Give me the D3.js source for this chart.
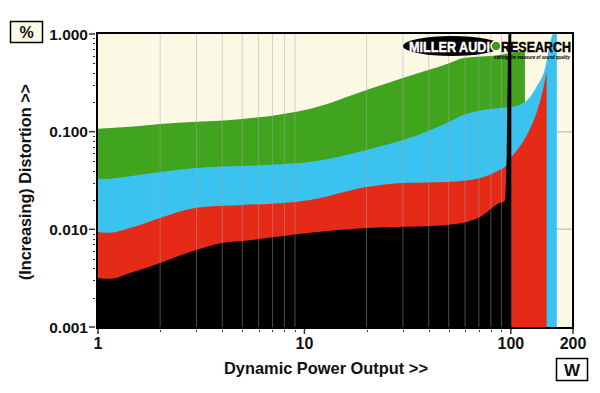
<!DOCTYPE html>
<html>
<head>
<meta charset="utf-8">
<script src="https://cdn.jsdelivr.net/npm/d3@7"></script>
<style>
  body { margin: 0; background: #fff; }
  svg { display: block; font-family: "Liberation Sans", Arial, sans-serif; }
</style>
</head>
<body>
<svg id="chart" width="600" height="393"></svg>
<script>
// power (W) and distortion (%), one pair of arrays per trace
var greenW = [ 1, 1.43, 2, 3, 5, 7.9, 10.6, 20, 30, 49, 59, 88, 100, 117 ];
var greenPct = [ 0.107, 0.112, 0.120, 0.126, 0.135, 0.152, 0.171, 0.267, 0.355, 0.493, 0.568, 0.61, 0.64, 0.67 ];

var blueW = [ 1, 1.14, 1.43, 2, 3, 4, 5, 7.9, 10.6, 20, 30, 49, 59, 88, 100, 117, 133, 147, 155, 160, 167 ];
var bluePct = [ 0.0328, 0.033, 0.035, 0.0387, 0.0425, 0.044, 0.0446, 0.0467, 0.049, 0.065, 0.082, 0.123, 0.148, 0.175, 0.179, 0.201, 0.287, 0.459, 0.81, 1.0, 1.0 ];

var redW = [ 1, 1.14, 1.43, 2, 3, 4, 5, 7.9, 10.6, 20, 30, 49, 71, 88, 93.5, 100, 110, 121, 133, 143, 149 ];
var redPct = [ 0.0094, 0.0092, 0.0103, 0.0131, 0.0166, 0.0174, 0.0178, 0.0186, 0.020, 0.0272, 0.0299, 0.0306, 0.0336, 0.0405, 0.0435, 0.054, 0.0697, 0.097, 0.155, 0.267, 0.41 ];

var blackW = [ 1, 1.14, 1.43, 2, 2.79, 3, 4, 5, 7.9, 10.6, 20, 49, 71, 88, 93.5, 95.5, 97.5, 100.5 ];
var blackPct = [ 0.00318, 0.00311, 0.00358, 0.00453, 0.00587, 0.00615, 0.00726, 0.0076, 0.00855, 0.0092, 0.0103, 0.0111, 0.0134, 0.0186, 0.0195, 0.06, 1.0, 1.0 ];

var xTickLabels = [ 1, 10, 100, 200 ];
var yTickLabels = [ '1.000', '0.100', '0.010', '0.001' ];

var svg = d3.select( '#chart' );
var pLeft = 98, pRight = 573, pTop = 34, pBottom = 327;

var x = d3.scaleLog().domain( [ 1, 200 ] ).range( [ pLeft, pRight ] );
var y = d3.scaleLog().domain( [ 0.001, 1 ] ).range( [ pBottom, pTop ] );

svg.append( 'defs' ).append( 'clipPath' ).attr( 'id', 'plotClip' )
	.append( 'rect' ).attr( 'x', pLeft ).attr( 'y', pTop )
	.attr( 'width', pRight - pLeft ).attr( 'height', pBottom - pTop );

svg.append( 'rect' )
	.attr( 'x', pLeft ).attr( 'y', pTop )
	.attr( 'width', pRight - pLeft ).attr( 'height', pBottom - pTop )
	.style( 'fill', '#fbf8e4' );

// horizontal grid sits behind the fills
svg.selectAll( 'line.hgrid' ).data( [ 0.1, 0.01 ] )
	.enter().append( 'line' )
	.attr( 'class', 'hgrid' )
	.attr( 'x1', pLeft ).attr( 'x2', pRight )
	.attr( 'y1', function( d ) { return y( d ); } )
	.attr( 'y2', function( d ) { return y( d ); } )
	.style( 'stroke', '#c8c8c0' ).style( 'stroke-width', 1.5 );

var traces = [
	{ w: greenW, p: greenPct, color: '#41a41e' },
	{ w: blueW, p: bluePct, color: '#3bc3ef' },
	{ w: redW, p: redPct, color: '#e52a17' },
	{ w: blackW, p: blackPct, color: '#000000' }
];

var plot = svg.append( 'g' ).attr( 'clip-path', 'url(#plotClip)' );

traces.forEach( function( t ) {
	var pts = t.w.map( function( w, i ) { return [ w, t.p[ i ] ]; } );
	var area = d3.area()
		.curve( d3.curveMonotoneX )
		.x( function( d ) { return x( d[ 0 ] ); } )
		.y0( pBottom )
		.y1( function( d ) { return y( d[ 1 ] ); } );
	plot.append( 'path' ).datum( pts ).attr( 'd', area ).style( 'fill', t.color );
} );

// vertical grid drawn over the fills
var vgrid = [];
[ 1, 10 ].forEach( function( dec ) {
	for ( var k = 2; k <= 9; k ++ ) vgrid.push( k * dec );
} );
plot.selectAll( 'line.vgrid' ).data( vgrid )
	.enter().append( 'line' )
	.attr( 'class', 'vgrid' )
	.attr( 'x1', function( d ) { return x( d ); } )
	.attr( 'x2', function( d ) { return x( d ); } )
	.attr( 'y1', pTop ).attr( 'y2', pBottom )
	.style( 'stroke', '#a8a8a8' ).style( 'stroke-opacity', 0.45 ).style( 'stroke-width', 1 );

// logo
var logo = svg.append( 'g' );
logo.append( 'ellipse' ).attr( 'cx', 452 ).attr( 'cy', 46 ).attr( 'rx', 49 ).attr( 'ry', 10 ).style( 'fill', '#000' );
logo.append( 'text' ).attr( 'x', 409 ).attr( 'y', 51.5 ).text( 'MILLER AUDI' )
	.style( 'fill', '#fff' ).style( 'font-weight', 'bold' ).style( 'font-size', '14px' )
	.style( 'stroke', '#fff' ).style( 'stroke-width', 0.4 )
	.attr( 'textLength', 81 ).attr( 'lengthAdjust', 'spacingAndGlyphs' );
logo.append( 'circle' ).attr( 'cx', 496 ).attr( 'cy', 46 ).attr( 'r', 5 )
	.style( 'fill', '#3d9a1c' ).style( 'stroke', '#fff' ).style( 'stroke-width', 1.5 );
logo.append( 'text' ).attr( 'x', 501 ).attr( 'y', 51.5 ).text( 'RESEARCH' )
	.style( 'fill', '#000' ).style( 'font-weight', 'bold' ).style( 'font-size', '14px' )
	.style( 'stroke', '#000' ).style( 'stroke-width', 0.4 )
	.attr( 'textLength', 70 ).attr( 'lengthAdjust', 'spacingAndGlyphs' );
logo.append( 'text' ).attr( 'x', 494 ).attr( 'y', 58.5 ).text( 'setting the measure of sound quality' )
	.style( 'fill', '#000' ).style( 'font-weight', 'bold' ).style( 'font-style', 'italic' ).style( 'font-size', '5.5px' )
	.attr( 'textLength', 76 ).attr( 'lengthAdjust', 'spacingAndGlyphs' );

// frame
svg.append( 'rect' )
	.attr( 'x', pLeft - 1 ).attr( 'y', pTop - 1 )
	.attr( 'width', pRight - pLeft + 1 ).attr( 'height', pBottom - pTop + 2 )
	.style( 'fill', 'none' ).style( 'stroke', '#000' ).style( 'stroke-width', 2 );

// y axis ticks
var yMinor = [];
[ 0.001, 0.01, 0.1 ].forEach( function( dec ) {
	for ( var k = 2; k <= 9; k ++ ) yMinor.push( k * dec );
} );
svg.selectAll( 'line.ymin' ).data( yMinor )
	.enter().append( 'line' )
	.attr( 'class', 'ymin' )
	.attr( 'x1', pLeft - 5 ).attr( 'x2', pLeft - 3 )
	.attr( 'y1', function( d ) { return Math.round( y( d ) ) + 0.5; } )
	.attr( 'y2', function( d ) { return Math.round( y( d ) ) + 0.5; } )
	.style( 'stroke', '#333' ).style( 'stroke-width', 1 );
svg.selectAll( 'line.ymaj' ).data( [ 1, 0.1, 0.01, 0.001 ] )
	.enter().append( 'line' )
	.attr( 'class', 'ymaj' )
	.attr( 'x1', pLeft - 9 ).attr( 'x2', pLeft - 3 )
	.attr( 'y1', function( d ) { return y( d ); } )
	.attr( 'y2', function( d ) { return y( d ); } )
	.style( 'stroke', '#333' ).style( 'stroke-width', 1.5 );
svg.selectAll( 'text.ylab' ).data( [ 1, 0.1, 0.01, 0.001 ] )
	.enter().append( 'text' )
	.attr( 'class', 'ylab' )
	.attr( 'x', pLeft - 10 )
	.attr( 'y', function( d ) { return y( d ) + 5.5; } )
	.attr( 'text-anchor', 'end' )
	.text( function( d, i ) { return yTickLabels[ i ]; } )
	.style( 'font-weight', 'bold' ).style( 'font-size', '15.5px' ).style( 'fill', '#111' );

// x axis ticks
svg.selectAll( 'line.xmin' ).data( vgrid )
	.enter().append( 'line' )
	.attr( 'class', 'xmin' )
	.attr( 'x1', function( d ) { return Math.round( x( d ) ) + 0.5; } )
	.attr( 'x2', function( d ) { return Math.round( x( d ) ) + 0.5; } )
	.attr( 'y1', pBottom + 3 ).attr( 'y2', pBottom + 5 )
	.style( 'stroke', '#333' ).style( 'stroke-width', 1 );
svg.selectAll( 'line.xmaj' ).data( xTickLabels )
	.enter().append( 'line' )
	.attr( 'class', 'xmaj' )
	.attr( 'x1', function( d ) { return x( d ); } )
	.attr( 'x2', function( d ) { return x( d ); } )
	.attr( 'y1', pBottom + 2 ).attr( 'y2', pBottom + 7 )
	.style( 'stroke', '#333' ).style( 'stroke-width', 1.5 );
svg.selectAll( 'text.xlab' ).data( xTickLabels )
	.enter().append( 'text' )
	.attr( 'class', 'xlab' )
	.attr( 'x', function( d ) { return x( d ); } )
	.attr( 'y', pBottom + 22 )
	.attr( 'text-anchor', 'middle' )
	.text( function( d ) { return d; } )
	.style( 'font-weight', 'bold' ).style( 'font-size', '16px' ).style( 'fill', '#111' );

// titles
svg.append( 'text' )
	.attr( 'x', 326 ).attr( 'y', 374 )
	.attr( 'text-anchor', 'middle' )
	.text( 'Dynamic Power Output >>' )
	.style( 'font-weight', 'bold' ).style( 'font-size', '16.4px' ).style( 'fill', '#111' );
svg.append( 'text' )
	.attr( 'transform', 'translate(31,182) rotate(-90)' )
	.attr( 'text-anchor', 'middle' )
	.text( '(Increasing) Distortion >>' )
	.style( 'font-weight', 'bold' ).style( 'font-size', '16.2px' ).style( 'fill', '#111' );

// unit boxes
svg.append( 'rect' ).attr( 'x', 10.5 ).attr( 'y', 21.5 ).attr( 'width', 32 ).attr( 'height', 21 )
	.style( 'fill', '#fbf8e4' ).style( 'stroke', '#000' ).style( 'stroke-width', 1.5 );
svg.append( 'text' ).attr( 'x', 26.5 ).attr( 'y', 37.5 ).attr( 'text-anchor', 'middle' ).text( '%' )
	.style( 'font-weight', 'bold' ).style( 'font-size', '16px' ).style( 'fill', '#111' );
svg.append( 'rect' ).attr( 'x', 556.5 ).attr( 'y', 358.5 ).attr( 'width', 31 ).attr( 'height', 22 )
	.style( 'fill', '#fff' ).style( 'stroke', '#000' ).style( 'stroke-width', 1.5 );
svg.append( 'text' ).attr( 'x', 572 ).attr( 'y', 376 ).attr( 'text-anchor', 'middle' ).text( 'W' )
	.style( 'font-weight', 'bold' ).style( 'font-size', '17px' ).style( 'fill', '#111' );
</script>
</body>
</html>
